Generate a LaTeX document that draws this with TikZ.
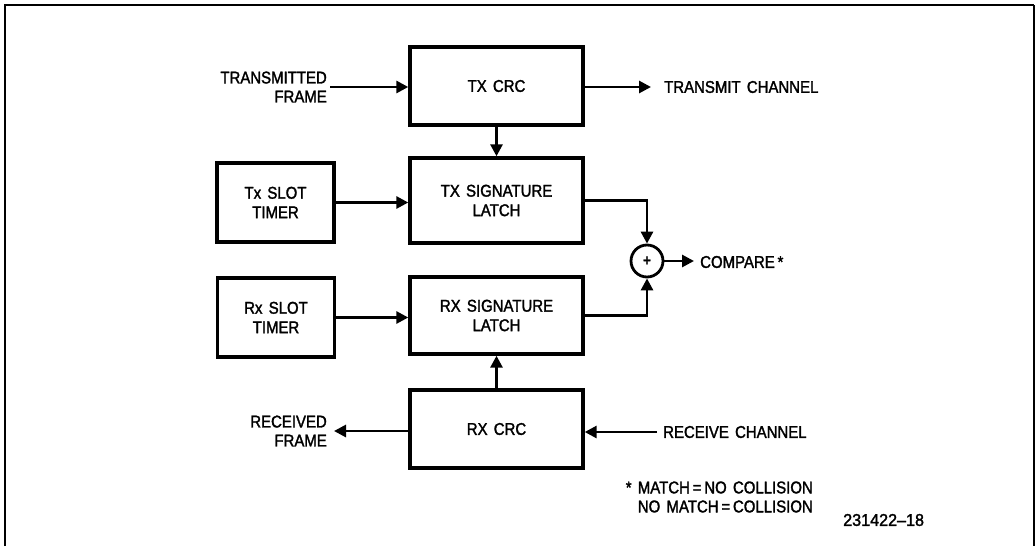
\documentclass[tikz,border=0pt]{standalone}
\usepackage{fontspec}
\setmainfont{Liberation Sans}[FakeStretch=0.88,FakeBold=1.7,WordSpace=1.5]
\usetikzlibrary{arrows.meta}
\begin{document}
\begin{tikzpicture}[x=1pt,y=-1pt,
  blk/.style={draw,line width=3.4pt,minimum width=173pt,align=center,inner sep=0pt,font=\fontsize{17}{19.5}\selectfont},
  lbl/.style={align=center,inner sep=0pt,font=\fontsize{17}{19}\selectfont},
  arr/.style={line width=2.8pt,-{Triangle[length=12pt,width=12pt]}},
  wire/.style={line width=2.8pt}]
\useasboundingbox (0,0) rectangle (1035,546);
% frame
\draw[line width=2.2pt] (5,546) -- (5,5) -- (1034,5);
\draw[line width=1.2pt] (1034,5) -- (1034,546);
% blocks
\node[blk,minimum height=78pt] (txcrc) at (496.5,86) {TX CRC};
\node[blk,minimum height=85pt] (txlatch) at (496.5,200.5) {TX SIGNATURE\\LATCH};
\node[blk,minimum height=77pt] (rxlatch) at (496.5,315.5) {RX SIGNATURE\\LATCH};
\node[blk,minimum height=78pt] (rxcrc) at (496.5,429) {RX CRC};
\node[blk,minimum width=117pt,minimum height=79pt] (txslot) at (275.5,202.5) {Tx SLOT\\TIMER};
\node[blk,minimum width=117pt,minimum height=79pt] (rxslot) at (276,317.5) {Rx SLOT\\TIMER};
\node[draw,circle,line width=2.8pt,minimum size=32pt,inner sep=0pt,font=\bfseries\fontsize{15}{15}\selectfont] (sum) at (647,261) {+};
% labels
\node[lbl,anchor=east,align=right] (tframe) at (327,87) {TRANSMITTED\\FRAME};
\node[lbl,anchor=west] (tchan) at (664,87) {TRANSMIT CHANNEL};
\node[lbl,anchor=west] (cmp) at (700,262) {COMPARE\,*};
\node[lbl,anchor=west] (rchan) at (663,432) {RECEIVE CHANNEL};
\node[lbl,anchor=east,align=right] (rframe) at (327,431) {RECEIVED\\FRAME};
\node[lbl,anchor=east,align=right] (note) at (813,497) {* MATCH\,=\,NO COLLISION\\NO MATCH\,=\,COLLISION};
\node[lbl,anchor=west] (fig) at (843,520) {\addfontfeature{FakeStretch=0.95}231422--18};
% connector end points
\coordinate (tin) at (330,87);
\coordinate (tout) at (651,87);
\coordinate (cout) at (694,261);
\coordinate (rin) at (657,432);
\coordinate (rout) at (334,431);
% connectors
\draw[arr] (tin) -- (txcrc.west |- tin);
\draw[arr] (txcrc.east |- tout) -- (tout);
\draw[arr] (txcrc.south) -- (txlatch.north);
\draw[arr] (txslot.east) -- (txlatch.west |- txslot.east);
\draw[arr] (rxslot.east) -- (rxlatch.west |- rxslot.east);
\draw[arr] (rxcrc.north) -- (rxlatch.south);
\draw[arr] (txlatch.east) -| (sum.north);
\draw[arr] (rxlatch.east) -| (sum.south);
\draw[arr] (sum.east) -- (cout);
\draw[arr] (rin) -- (rxcrc.east |- rin);
\draw[arr] (rxcrc.west |- rout) -- (rout);
\end{tikzpicture}
\end{document}
